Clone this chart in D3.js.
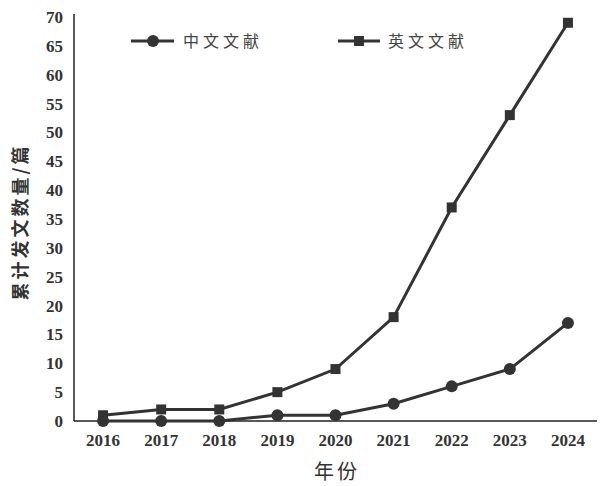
<!DOCTYPE html>
<html><head><meta charset="utf-8">
<script src="https://cdn.jsdelivr.net/npm/d3@7"></script>
<style>body{margin:0;background:#fff}</style>
</head><body>
<svg id="c" width="600" height="486"></svg>
<script>
const years = ["2016","2017","2018","2019","2020","2021","2022","2023","2024"];
const chineseVals = [0,0,0,1,1,3,6,9,17];
const englishVals = [1,2,2,5,9,18,37,53,69];
const yTicks = [0,5,10,15,20,25,30,35,40,45,50,55,60,65,70];
const seriesNames = ["中文文献","英文文献"];

(function(){
const svg = d3.select("#c");
const col = "#333";
const mL = 74, mR = 597, mT = 17, mB = 421;
const x = d3.scaleBand().domain(years).range([mL, mR]);
const y = d3.scaleLinear().domain([0,70]).range([mB, mT]);
const cx = d => x(d) + x.bandwidth()/2;

// axes
const yAxis = svg.append("g").attr("transform",`translate(${mL},0)`)
  .call(d3.axisLeft(y).tickValues(yTicks).tickSize(0).tickPadding(11));
yAxis.select(".domain").attr("stroke","#222").attr("stroke-width",1.5).attr("d",`M0,${mT-3}V${mB}`);
yAxis.selectAll("text").attr("font-family","'Liberation Serif',serif").attr("font-weight","bold")
  .attr("font-size",17).attr("fill",col);

const xAxis = svg.append("g").attr("transform",`translate(0,${mB})`)
  .call(d3.axisBottom(x).tickSize(0).tickPadding(13));
xAxis.select(".domain").attr("stroke","#222").attr("stroke-width",1.5).attr("d",`M${mL},0H${mR}`);
xAxis.selectAll("text").attr("font-family","'Liberation Serif',serif").attr("font-weight","bold")
  .attr("font-size",17).attr("fill",col);

// lines
const line = d3.line().x((d,i)=>cx(years[i])).y(d=>y(d));
svg.append("path").datum(englishVals).attr("d",line).attr("fill","none").attr("stroke",col).attr("stroke-width",3);
svg.append("path").datum(chineseVals).attr("d",line).attr("fill","none").attr("stroke",col).attr("stroke-width",3);

svg.selectAll(".sq").data(englishVals).enter().append("rect")
  .attr("x",(d,i)=>cx(years[i])-5).attr("y",d=>y(d)-5).attr("width",10).attr("height",10).attr("fill",col);
svg.selectAll(".ci").data(chineseVals).enter().append("circle")
  .attr("cx",(d,i)=>cx(years[i])).attr("cy",d=>y(d)).attr("r",6).attr("fill",col);

// legend
const lg = svg.append("g");
lg.append("line").attr("x1",131).attr("x2",174).attr("y1",41).attr("y2",41).attr("stroke",col).attr("stroke-width",3);
lg.append("circle").attr("cx",153).attr("cy",41).attr("r",6).attr("fill",col);
lg.append("text").attr("x",183).attr("y",47).text(seriesNames[0]);
lg.append("line").attr("x1",338).attr("x2",380).attr("y1",41).attr("y2",41).attr("stroke",col).attr("stroke-width",3);
lg.append("rect").attr("x",354).attr("y",36).attr("width",10).attr("height",10).attr("fill",col);
lg.append("text").attr("x",388).attr("y",47).text(seriesNames[1]);
lg.selectAll("text").attr("font-family","'Noto Sans CJK SC',sans-serif").attr("font-size",16)
  .attr("letter-spacing","4px").attr("fill","#444");

// axis titles
svg.append("text").attr("transform","translate(27,222) rotate(-90)").attr("text-anchor","middle")
  .attr("font-family","'Noto Sans CJK SC',sans-serif").attr("font-weight","bold").attr("font-size",18)
  .attr("letter-spacing","3px").attr("fill",col).text("累计发文数量/篇");
svg.append("text").attr("x",337).attr("y",479).attr("text-anchor","middle")
  .attr("font-family","'Noto Sans CJK SC',sans-serif").attr("font-size",20)
  .attr("letter-spacing","3px").attr("fill",col).text("年份");
})();
</script>
</body></html>
